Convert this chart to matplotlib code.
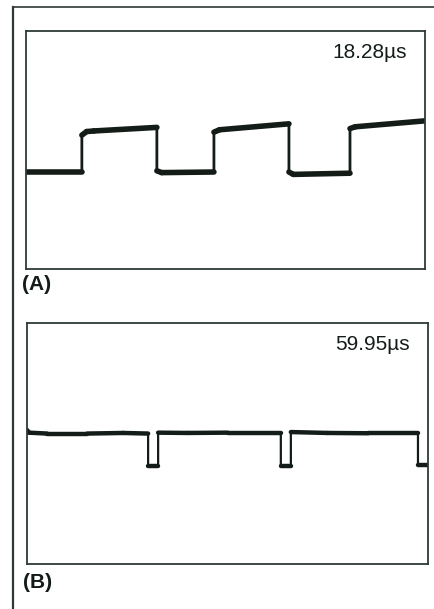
import matplotlib
matplotlib.use("Agg")
import matplotlib.pyplot as plt

# Panel A trace (x in divisions 0-10, y in divisions 0-8)
a_time = [0, 1.40, 1.40, 1.52, 1.70, 3.28, 3.28, 3.40, 4.71, 4.71, 4.85, 6.59, 6.59, 6.70, 8.12, 8.12, 8.25, 10]
a_level = [3.26, 3.26, 4.50, 4.62, 4.64, 4.76, 3.30, 3.24, 3.26, 4.60, 4.68, 4.88, 3.26, 3.18, 3.22, 4.72, 4.78, 4.98]
# Panel B trace
b_time = [0, 0.05, 0.5, 1.5, 2.4, 3.02, 3.02, 3.27, 3.27, 4.0, 5.0, 6.33, 6.33, 6.58, 6.58, 7.5, 8.5, 9.75, 9.75, 10]
b_level = [4.45, 4.36, 4.33, 4.33, 4.35, 4.33, 3.26, 3.26, 4.36, 4.35, 4.36, 4.36, 3.26, 3.26, 4.38, 4.35, 4.34, 4.34, 3.30, 3.30]

labels = ["(A)", "(B)"]
times = ["18.28\u00b5s", "59.95\u00b5s"]

W, H = 434, 609
fig = plt.figure(figsize=(W / 100, H / 100), dpi=100)
fig.patch.set_facecolor("white")

ink = "#141c18"
edge = "#2f3a34"

# outer frame lines (page rules)
bg = fig.add_axes([0, 0, 1, 1])
bg.set_xlim(0, W)
bg.set_ylim(H, 0)
bg.axis("off")
bg.plot([13, 13], [7, H], color=edge, lw=1.6)
bg.plot([13, W], [7, 7], color=edge, lw=1.2)

def panel(box, t, v, label, ttext, lw_thin, lw_thick, label_y):
    x0, y0, x1, y1 = box
    ax = fig.add_axes([x0 / W, 1 - y1 / H, (x1 - x0) / W, (y1 - y0) / H])
    ax.set_xlim(0, 10)
    ax.set_ylim(0, 8)
    ax.set_xticks([])
    ax.set_yticks([])
    for s in ax.spines.values():
        s.set_color(edge)
        s.set_linewidth(1.3)
    # edges (thin) and plateaus (thick, noisy band)
    ax.plot(t, v, color=ink, lw=lw_thin, solid_joinstyle="miter", solid_capstyle="butt")
    for i in range(len(t) - 1):
        if t[i + 1] != t[i]:
            ax.plot(t[i:i + 2], v[i:i + 2], color=ink, lw=lw_thick,
                    solid_capstyle="round")
    ax.text(0.955, 0.91, ttext, transform=ax.transAxes, ha="right", va="center",
            fontsize=15, family="Liberation Sans", color=ink)
    bg.text(x0 - 4, label_y, label, ha="left", va="center", fontsize=15,
            fontweight="bold", family="Liberation Sans", color=ink)
    return ax

panel((26, 31, 425, 269), a_time, a_level, labels[0], times[0], 2.0, 4.0, 285)
panel((27, 323, 428, 564), b_time, b_level, labels[1], times[1], 1.6, 3.2, 583)

fig.savefig("out.png", dpi=100)
